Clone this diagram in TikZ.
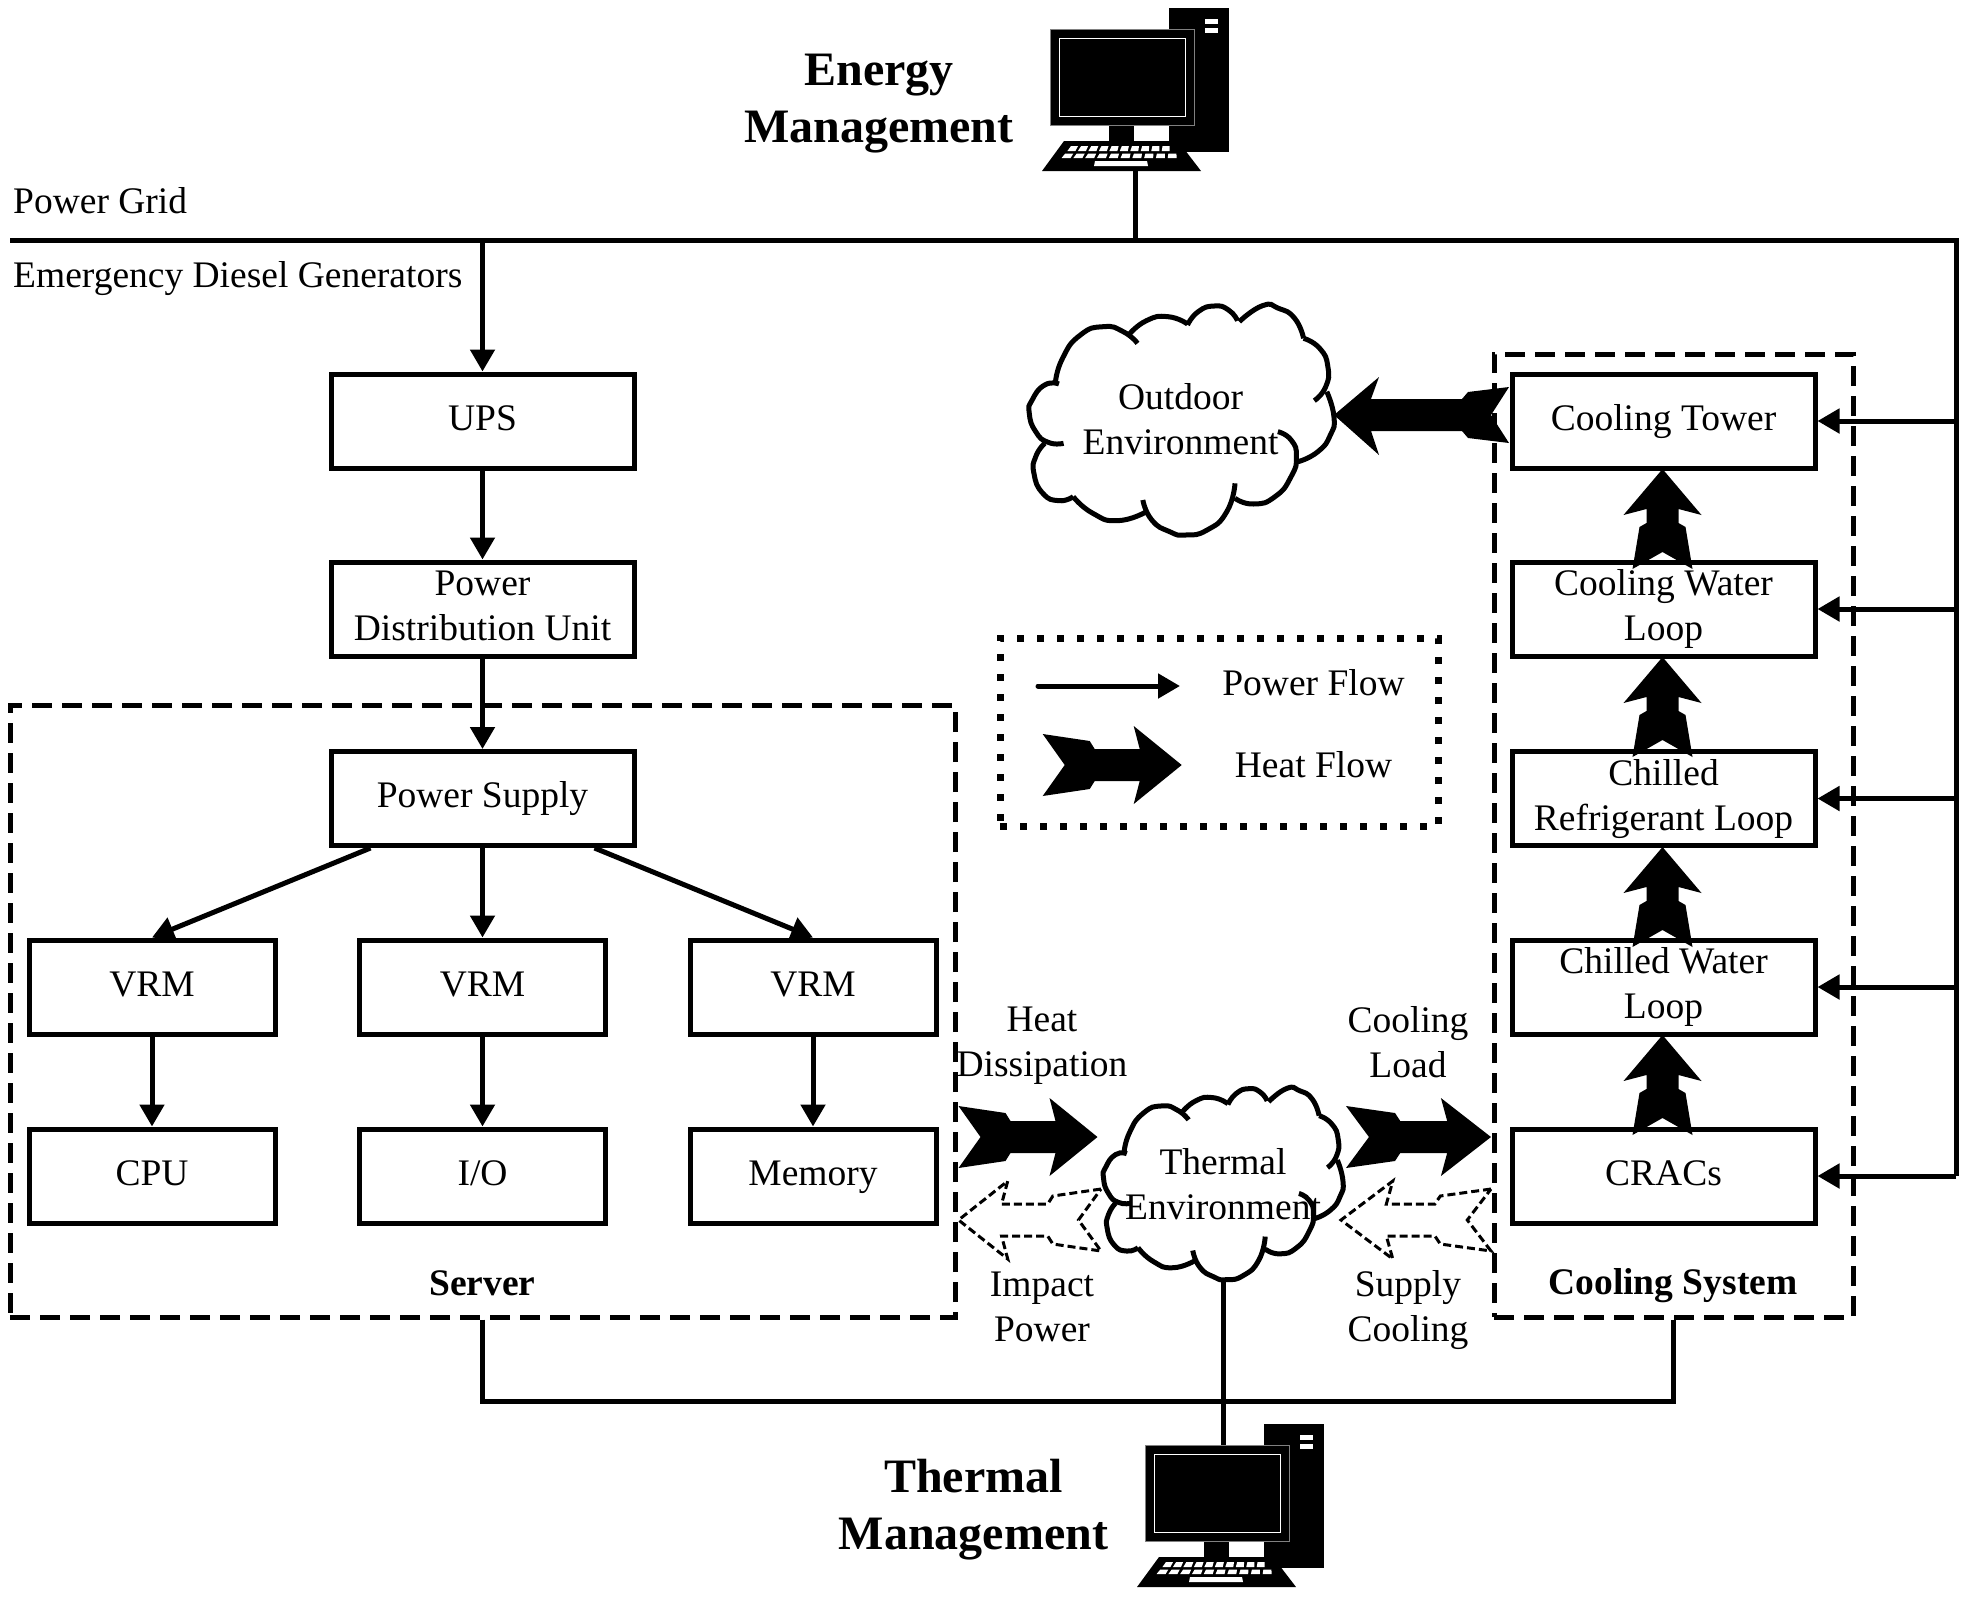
\documentclass[tikz,border=0pt]{standalone}
\usepackage{fontspec}
\setmainfont{Liberation Serif}
\usetikzlibrary{arrows.meta,calc}
\newcommand{\hheatshape}{(0,-31) -- (47,-24) -- (52,-16) -- (97,-16) -- (91,-39) -- (139,0) -- (91,39) -- (97,16) -- (52,16) -- (47,24) -- (0,31) -- (22,0) -- cycle}
\newcommand{\vheatshape}{(0,0) -- (39,46) -- (16,40) -- (16,54) -- (23,58) -- (30,100) -- (0,83) -- (-30,100) -- (-23,58) -- (-16,54) -- (-16,40) -- (-39,46) -- cycle}
\newcommand{\cloudlobes}{%
 \draw[cloudline] plot[smooth,tension=.95] coordinates {(385,190) (345,155) (290,140) (225,165) (175,235) (155,310)};
 \draw[cloudline] plot[smooth,tension=.95] coordinates {(165,312) (125,315) (90,360) (82,400) (100,455) (135,487) (178,490)};
 \draw[cloudline] plot[smooth,tension=.95] coordinates {(125,490) (100,530) (95,580) (120,640) (165,662) (205,650)};
 \draw[cloudline] plot[smooth,tension=.95] coordinates {(205,650) (260,700) (330,722) (410,695)};
 \draw[cloudline] plot[smooth,tension=.95] coordinates {(400,660) (425,720) (475,755) (520,765) (580,750) (635,695) (658,610)};
 \draw[cloudline] plot[smooth,tension=.95] coordinates {(658,655) (710,672) (770,650) (815,590) (830,530) (815,480) (778,455)};
 \draw[cloudline] plot[smooth,tension=.95] coordinates {(835,545) (890,515) (925,465) (935,410) (915,335)};
 \draw[cloudline] plot[smooth,tension=.95] coordinates {(880,362) (912,320) (918,260) (895,205) (850,175)};
 \draw[cloudline] plot[smooth,tension=.95] coordinates {(850,175) (825,115) (780,85) (735,77) (670,125)};
 \draw[cloudline] plot[smooth,tension=.95] coordinates {(665,122) (640,90) (600,78) (555,95) (525,135)};
 \draw[cloudline] plot[smooth,tension=.95] coordinates {(525,132) (470,110) (410,122) (360,165)};
}
\newcommand{\computerdraw}{%
 \fill[black] (1169,8) rectangle (1229,152);
 \fill[white] (1205,19) rectangle (1218,24);
 \fill[white] (1205,28) rectangle (1218,33);
 \fill[black] (1109,125) rectangle (1134,141);
 \draw[fill=black,draw=black!50,line width=1] (1050,29) rectangle (1194,125);
 \draw[draw=white,line width=1] (1059,38) rectangle (1185,116);
 \fill[black] (1064,141) -- (1178,141) -- (1201,171) -- (1042,171) -- cycle;
 \foreach \i in {0,...,9} {
  \pgfmathsetmacro{\kx}{1069+10.17*\i}
  \pgfmathsetmacro{\kb}{\kx-(1121-\kx)*0.03}
  \fill[white] (\kx+2,146) -- (\kx+9,146) -- (\kb+8,151) -- (\kb,151) -- cycle;
  \pgfmathsetmacro{\mx}{1063.3+11.45*\i}
  \pgfmathsetmacro{\mb}{\mx-(1121-\mx)*0.03}
  \fill[white] (\mx+2,153.5) -- (\mx+10,153.5) -- (\mb+9,158) -- (\mb,158) -- cycle;
 }
 \fill[white] (1095,161) -- (1147,161) -- (1148,166) -- (1094,166) -- cycle;
}
\tikzset{
 txt/.style={font=\fontsize{37.5}{45}\selectfont,align=center,inner sep=0pt},
 boldlabel/.style={font=\fontsize{37.5}{45}\selectfont\bfseries,align=center,inner sep=0pt},
 titlelabel/.style={font=\fontsize{48}{57}\selectfont\bfseries,align=center,inner sep=0pt},
 bigbox/.style={draw,line width=5,minimum width=303,minimum height=94,inner sep=0pt,font=\fontsize{37.5}{45}\selectfont,align=center},
 smallbox/.style={draw,line width=5,minimum width=246,minimum height=94,inner sep=0pt,font=\fontsize{37.5}{45}\selectfont,align=center},
 groupbox/.style={draw,line width=5,dash pattern=on 20 off 10,inner sep=0pt},
 legendbox/.style={draw,line width=7,dash pattern=on 7 off 13,inner sep=0pt},
 flow/.style={line width=5,-{Triangle[length=22,width=24]}},
 wire/.style={line width=5},
 cloudline/.style={line width=5,line cap=butt},
 heatdash/.style={draw=black,line width=3,dash pattern=on 8 off 4}
}
\begin{document}
\begin{tikzpicture}[x=1pt,y=-1pt]
\useasboundingbox (0,0) rectangle (1967,1604);
% dashed groups and legend frame
\node[groupbox,minimum width=945,minimum height=612] (server) at (482.5,1011) {};
\node[groupbox,minimum width=359,minimum height=963] (coolsys) at (1673.5,835.5) {};
\node[legendbox,minimum width=438,minimum height=188] (legend) at (1219,732) {};
% boxes
\node[bigbox] (ups) at (482.5,421) {\strut UPS};
\node[bigbox] (pdu) at (482.5,609) {\strut Power\\\strut Distribution Unit};
\node[bigbox] (ps) at (482.5,798.5) {\strut Power Supply};
\node[smallbox] (vrma) at (152,987) {\strut VRM};
\node[smallbox] (vrmb) at (482.5,987) {\strut VRM};
\node[smallbox] (vrmc) at (813,987) {\strut VRM};
\node[smallbox] (cpu) at (152,1176) {\strut CPU};
\node[smallbox] (io) at (482.5,1176) {\strut I/O};
\node[smallbox] (mem) at (813,1176) {\strut Memory};
\node[bigbox] (tower) at (1663.5,421) {\strut Cooling Tower};
\node[bigbox] (cwl) at (1663.5,609) {\strut Cooling Water\\\strut Loop};
\node[bigbox] (crl) at (1663.5,798.5) {\strut Chilled\\\strut Refrigerant Loop};
\node[bigbox] (chwl) at (1663.5,987) {\strut Chilled Water\\\strut Loop};
\node[bigbox] (cracs) at (1663.5,1176) {\strut CRACs};
% clouds
\begin{scope}[shift={(1000,280)},xscale=0.35714,yscale=0.33333]
\cloudlobes
\end{scope}
\begin{scope}[shift={(1080.5,1067)},xscale=0.2807,yscale=0.278]
\cloudlobes
\end{scope}
\node[txt] (outdoor) at (1180.5,419) {Outdoor\\Environment};
\node[txt] (thermal) at (1223,1184) {Thermal\\Environment};
% computers
\begin{scope}
\computerdraw
\end{scope}
\begin{scope}[shift={(95,1416)}]
\computerdraw
\end{scope}
% named wire points
\coordinate (gridL) at (10,240.5);
\coordinate (gridR) at (1956,240.5);
\coordinate (busEnd) at (1956,1175.5);
\coordinate (emTop) at (1135,171);
\coordinate (emBus) at (1135,240.5);
\coordinate (upsBus) at (482.5,240.5);
\coordinate (thBot) at (1223,1280);
\coordinate (thTop) at (1223,1445);
\coordinate (thBus) at (1223,1401);
% wires
\draw[wire] (gridL) -- (gridR) -- (busEnd);
\draw[wire] (emTop) -- (emBus);
\draw[flow] (upsBus) -- (ups.north);
\draw[flow] (ups.south) -- (pdu.north);
\draw[flow] (pdu.south) -- (ps.north);
\draw[flow] (ps.south) -- (vrmb.north);
\draw[flow] ([xshift=42]ps.south west) -- (vrma.north);
\draw[flow] ([xshift=-42]ps.south east) -- (vrmc.north);
\draw[flow] (vrma.south) -- (cpu.north);
\draw[flow] (vrmb.south) -- (io.north);
\draw[flow] (vrmc.south) -- (mem.north);
\draw[flow] (tower.east -| busEnd) -- (tower.east);
\draw[flow] (cwl.east -| busEnd) -- (cwl.east);
\draw[flow] (crl.east -| busEnd) -- (crl.east);
\draw[flow] (chwl.east -| busEnd) -- (chwl.east);
\draw[flow] (cracs.east -| busEnd) -- (cracs.east);
\draw[wire] (server.south) -- (server.south |- thBus) -- (coolsys.south |- thBus) -- (coolsys.south);
\draw[wire] (thBot) -- (thTop);
% heat arrows
\fill[shift={(958.5,1137)}] \hheatshape;
\fill[shift={(1346,1137)},xscale=1.043] \hheatshape;
\draw[heatdash,shift={(958.5,1220)},xscale=-1,shift={(-142.5,0)},xscale=1.025] \hheatshape;
\draw[heatdash,shift={(1341,1220)},xscale=-1,shift={(-150,0)},xscale=1.079] \hheatshape;
\fill (1509,387) -- (1468,392) -- (1462,399) -- (1371,399) -- (1379,377) -- (1334,415) -- (1379,455) -- (1371,431) -- (1462,431) -- (1468,438) -- (1509,443) -- (1491,415) -- cycle;
\fill[shift={(1662.5,469)}] \vheatshape;
\fill[shift={(1662.5,657)}] \vheatshape;
\fill[shift={(1662.5,847)}] \vheatshape;
\fill[shift={(1662.5,1035)}] \vheatshape;
% legend contents
\coordinate (legA) at (1038,686);
\coordinate (legB) at (1180,686);
\draw[flow,line cap=round] (legA) -- (legB);
\fill[shift={(1042.7,765)}] \hheatshape;
\node[txt] (lpf) at (1313.5,683) {Power Flow};
\node[txt] (lhf) at (1313.5,765) {Heat Flow};
% labels
\node[titlelabel] (energy) at (879,104) {Energy\\Management};
\node[titlelabel] (thermalm) at (973.5,1510) {Thermal\\Management};
\node[txt,anchor=west] (grid) at (13,201) {Power Grid};
\node[txt,anchor=west] (diesel) at (13,278.5) {Emergency Diesel Generators};
\node[boldlabel] (srv) at (482.5,1283) {Server};
\node[boldlabel] (cs) at (1673,1286) {Cooling System};
\node[txt] (hd) at (1042,1046) {Heat\\Dissipation};
\node[txt] (cl) at (1408,1042) {Cooling\\Load};
\node[txt] (ip) at (1042,1307) {Impact\\Power};
\node[txt] (sc) at (1408,1310) {Supply\\Cooling};
\end{tikzpicture}
\end{document}
